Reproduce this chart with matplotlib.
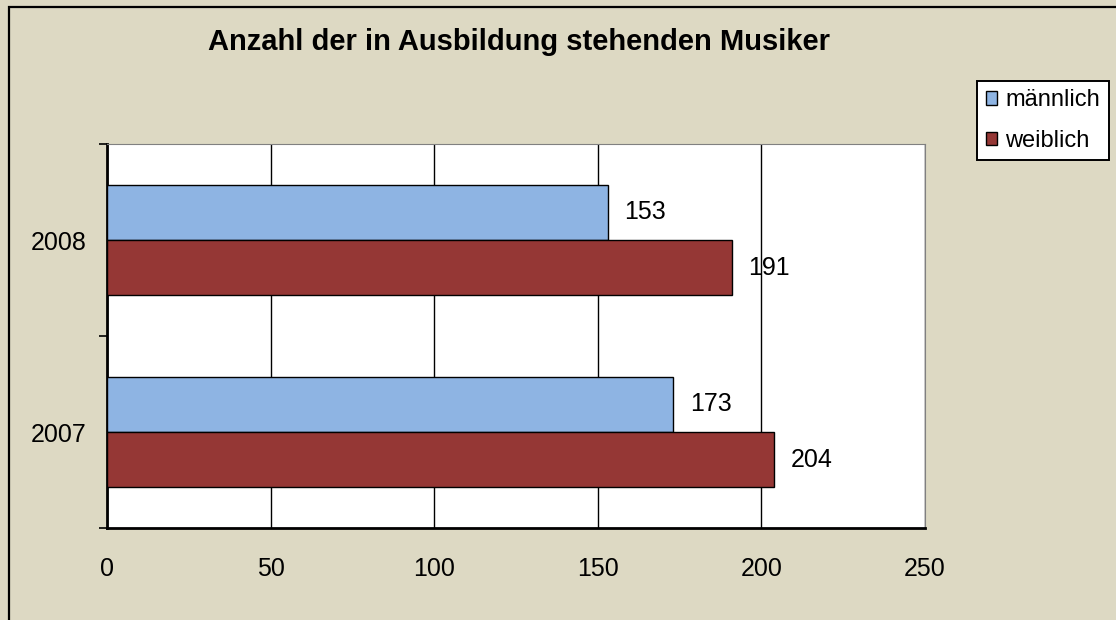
import numpy as np
import matplotlib.pyplot as plt
from matplotlib.patches import Rectangle, Patch

plt.rcParams['font.family'] = ['Liberation Sans', 'DejaVu Sans']

years = ['2007', '2008']
maennlich = [173, 153]
weiblich = [204, 191]
series_names = ['männlich', 'weiblich']
colors = ['#8EB4E3', '#953735']

bg = '#DDD9C3'
fig = plt.figure(figsize=(11.16, 6.2), dpi=100, facecolor=bg)
# outer chart border, runs off the right and bottom of the picture
fig.patches.append(Rectangle((8.5 / 1116, -0.1), 1.2, 1.1 - 6.5 / 620,
                             transform=fig.transFigure, fill=False,
                             edgecolor='black', linewidth=1.6))

ax = fig.add_axes([107 / 1116, 1 - 528 / 620, 818 / 1116, 384 / 620])
ax.set_facecolor('white')

y = np.arange(len(years))
h = 0.287
b1 = ax.barh(y + h / 2, maennlich, height=h, color=colors[0], edgecolor='black', linewidth=1, zorder=3)
b2 = ax.barh(y - h / 2, weiblich, height=h, color=colors[1], edgecolor='black', linewidth=1, zorder=3)

for bars, vals in ((b1, maennlich), (b2, weiblich)):
    for rect, v in zip(bars, vals):
        ax.annotate(str(v), (v, rect.get_y() + rect.get_height() / 2),
                    xytext=(12, 0), textcoords='offset points', fontsize=18,
                    va='center', ha='left', zorder=4)

ax.set_xlim(0, 250)
ax.set_ylim(-0.5, len(years) - 0.5)
ax.set_xticks(np.arange(0, 251, 50))
ax.tick_params(axis='x', length=0, pad=21, labelsize=18)
ax.xaxis.grid(True, color='black', linewidth=1, zorder=1)

ax.set_yticks(y)
ax.set_yticklabels(years)
ax.set_yticks(np.arange(-0.5, len(years), 1), minor=True)
ax.tick_params(axis='y', which='major', length=0, pad=15, labelsize=18)
ax.tick_params(axis='y', which='minor', length=6, width=1.2, direction='out')

ax.spines['left'].set_linewidth(2)
ax.spines['bottom'].set_linewidth(2)
ax.spines['top'].set_color('#808080')
ax.spines['right'].set_color('#808080')

fig.text(519 / 1116, 1 - 42 / 620, 'Anzahl der in Ausbildung stehenden Musiker',
         fontsize=21, fontweight='bold', ha='center', va='center')

handles = [Patch(facecolor=c, edgecolor='black', label=n) for c, n in zip(colors, series_names)]
leg = fig.legend(handles=handles, loc='upper left', bbox_to_anchor=(977 / 1116, 1 - 81 / 620),
                 fontsize=17, frameon=True, fancybox=False, handlelength=0.5,
                 handleheight=0.5, handletextpad=0.34, borderpad=0.36, labelspacing=0.78,
                 borderaxespad=0)
leg.get_frame().set_edgecolor('black')
leg.get_frame().set_linewidth(1.4)
leg.get_frame().set_alpha(1)

fig.savefig('out.png', dpi=100, facecolor=bg)
